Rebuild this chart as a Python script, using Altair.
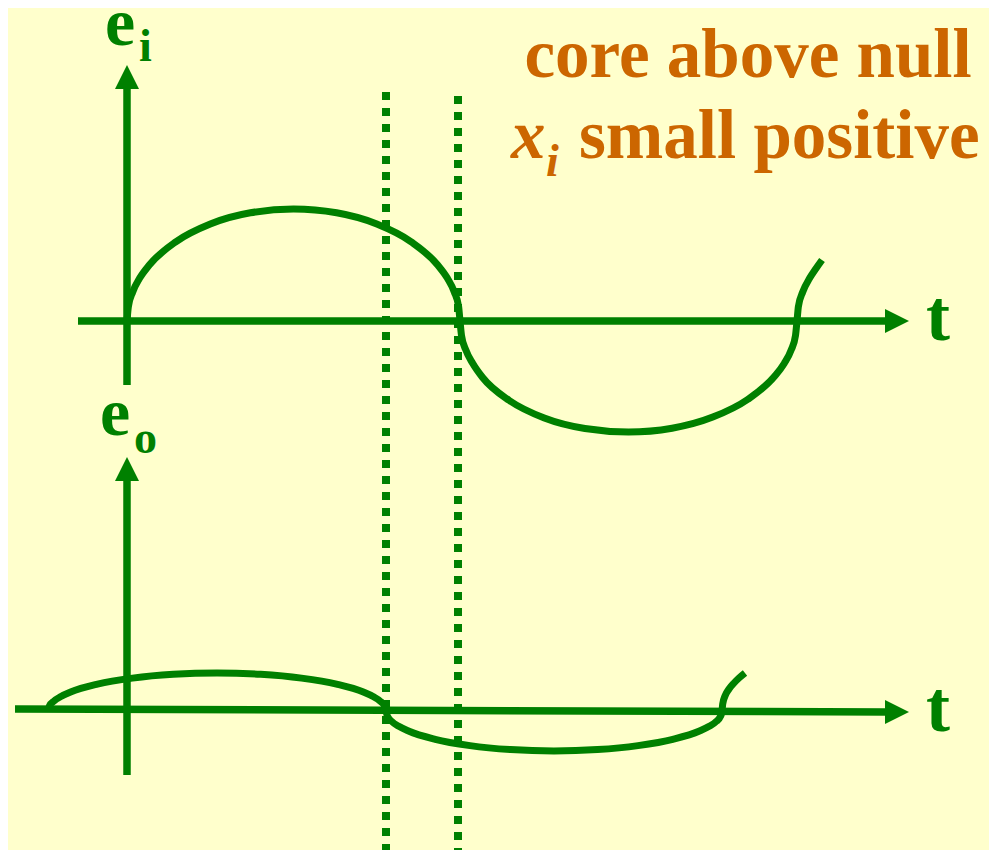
import altair as alt
import pandas as pd

BG = "#FFFFCC"
GREEN = "#008000"
ORANGE = "#CC6600"
FONT = "Liberation Serif"

# ---- data (reference pixel coordinates) ----
# input signal e_i
ei_x = [127, 128.4, 132.7, 139.7, 149.3, 175.8, 210.3, 250.4, 293.5, 336.6, 376.8, 411.2, 437.7,
        447.3, 454.3, 458.6, 460,
        461.5, 465.7, 472.8, 482.6, 509.3, 544.3, 584.9, 628.5, 672.1, 712.8, 747.6, 774.4,
        784.2, 791.3, 795.5, 797,
        798.4, 802.7, 809.7, 816, 822]
ei_y = [321, 306.4, 292, 278.1, 265, 241.8, 224, 212.8, 209, 212.8, 224, 241.8, 265,
        278.1, 292, 306.4, 321,
        335.5, 349.7, 363.5, 377.5, 400.5, 418, 428.5, 432, 428.2, 417.1, 399.5, 376.5,
        363.5, 349.7, 335.5, 321,
        306.4, 292, 278.1, 268.5, 260]

# output signal e_o
eo_x = [48, 49.4, 53.8, 60.9, 70.6, 97.5, 132.5, 173.3, 217, 260.7, 301.5, 336.5, 363.4,
        373.1, 380.2, 384.6, 386,
        387.4, 391.7, 398.8, 408.5, 435.2, 470, 510.5, 554, 597.5, 638, 672.8, 699.5,
        709.2, 716.3, 720.6, 722,
        722.7, 725, 729, 734, 739, 745]
eo_y = [711, 706, 701.2, 696.5, 692, 684.1, 678.1, 674.3, 673, 674.3, 678.1, 684.1, 692,
        696.5, 701.2, 706, 711,
        716.2, 721.4, 726.3, 731, 739.3, 745.6, 749.6, 751, 749.6, 745.6, 739.3, 731,
        726.3, 721.4, 716.2, 711,
        704, 696, 689, 683, 678, 673]

# axes segments
axis_x1 = [78, 127, 15, 127]
axis_y1 = [321, 385, 709, 775]
axis_x2 = [888, 127, 888, 127]
axis_y2 = [321, 88, 712, 480]

# arrowheads
arrow_x = [897, 127, 897, 127]
arrow_y = [321, 77, 712, 469]
arrow_angle = [90, 0, 90, 0]

# dotted guides
guide_x = [386, 458]
guide_top = [92, 96]
guide_bottom = [858, 858]

# labels
green_text = ["e", "i", "e", "o", "t", "t"]
green_x = [105, 139, 100, 134, 926, 926]
green_y = [45, 61, 435, 453, 340, 731]
green_size = [68, 46, 68, 46, 72, 72]

title_text = ["core above null", "small positive"]
title_x = [748, 579]
title_y = [77, 158]
title_align = ["center", "left"]

ital_text = ["x", "i"]
ital_x = [511, 546]
ital_y = [158, 176]
ital_size = [69, 46]

# ---- scales: 1 unit = 1 screen pixel (page margin 8px) ----
xs = alt.Scale(domain=[8, 989], nice=False, zero=False)
ys = alt.Scale(domain=[8, 850], nice=False, zero=False, reverse=True)

def X(f):
    return alt.X(f, scale=xs, axis=None)

def Y(f):
    return alt.Y(f, scale=ys, axis=None)

curves = pd.concat([
    pd.DataFrame({"x": ei_x, "y": ei_y, "curve": "ei", "i": range(len(ei_x))}),
    pd.DataFrame({"x": eo_x, "y": eo_y, "curve": "eo", "i": range(len(eo_x))}),
])

axes_df = pd.DataFrame({"x": axis_x1, "y": axis_y1, "x2": axis_x2, "y2": axis_y2})
arrows_df = pd.DataFrame({"x": arrow_x, "y": arrow_y, "angle": arrow_angle})
guides_df = pd.DataFrame({"x": guide_x, "y": guide_top, "y2": guide_bottom})
green_df = pd.DataFrame({"t": green_text, "x": green_x, "y": green_y, "s": green_size})
title_df = pd.DataFrame({"t": title_text, "x": title_x, "y": title_y, "a": title_align})
ital_df = pd.DataFrame({"t": ital_text, "x": ital_x, "y": ital_y, "s": ital_size})

guides = alt.Chart(guides_df).mark_rule(
    color=GREEN, strokeWidth=8, strokeDash=[8, 8], strokeCap="butt", clip=True
).encode(x=X("x:Q"), y=Y("y:Q"), y2="y2:Q")

axes = alt.Chart(axes_df).mark_rule(
    color=GREEN, strokeWidth=7.5, strokeCap="butt"
).encode(x=X("x:Q"), y=Y("y:Q"), x2="x2:Q", y2="y2:Q")

arrows = alt.Chart(arrows_df).mark_point(
    filled=True, shape="M0,-1L1,1L-1,1Z", size=576, color=GREEN, opacity=1, strokeWidth=0
).encode(x=X("x:Q"), y=Y("y:Q"), angle=alt.Angle("angle:Q", scale=None))

lines = alt.Chart(curves).mark_line(
    color=GREEN, strokeWidth=7, interpolate="monotone", strokeCap="butt"
).encode(x=X("x:Q"), y=Y("y:Q"), detail="curve:N", order="i:Q")

green_lbl = alt.Chart(green_df).mark_text(
    font=FONT, fontWeight="bold", align="left", baseline="alphabetic", color=GREEN
).encode(x=X("x:Q"), y=Y("y:Q"), text="t:N", size=alt.Size("s:Q", scale=None))

title_c = alt.Chart(title_df[title_df.a == "center"]).mark_text(
    font=FONT, fontWeight="bold", align="center", baseline="alphabetic", color=ORANGE, fontSize=69
).encode(x=X("x:Q"), y=Y("y:Q"), text="t:N")

title_l = alt.Chart(title_df[title_df.a == "left"]).mark_text(
    font=FONT, fontWeight="bold", align="left", baseline="alphabetic", color=ORANGE, fontSize=69
).encode(x=X("x:Q"), y=Y("y:Q"), text="t:N")

ital_lbl = alt.Chart(ital_df).mark_text(
    font=FONT, fontWeight="bold", fontStyle="italic", align="left", baseline="alphabetic", color=ORANGE
).encode(x=X("x:Q"), y=Y("y:Q"), text="t:N", size=alt.Size("s:Q", scale=None))

chart = alt.layer(
    guides, axes, arrows, lines, green_lbl, title_c, title_l, ital_lbl
).properties(
    width=981, height=842, padding=0,
    autosize=alt.AutoSizeParams(type="none"),
    background=BG,
).configure_view(stroke=None)

chart.save("out.html", embed_options={"renderer": "svg", "actions": False})
